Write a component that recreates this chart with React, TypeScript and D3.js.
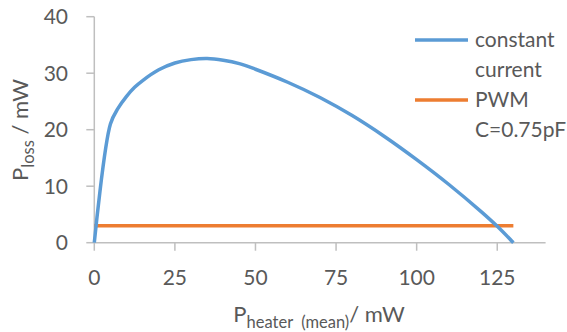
import React from "react";
import * as d3 from "d3";

const xTicks = [0, 25, 50, 75, 100, 125];
const yTicks = [0, 10, 20, 30, 40];
const ccX = [0, 5, 7.4, 10, 12.5, 15, 20, 25, 30, 35, 40, 45, 50, 60, 70, 80, 90, 100, 110, 120, 125, 130];
const ccY = [0, 21, 23.8, 25.9, 27.5, 28.7, 30.6, 31.8, 32.4, 32.6, 32.3, 31.7, 30.7, 28.4, 25.7, 22.5, 18.8, 14.7, 10.3, 5.5, 2.9, 0];
const pwmX = [0, 130];
const pwmY = [3, 3];
const seriesNames = [["constant", "current"], ["PWM", "C=0.75pF"]];
const colors = ["#5B9BD5", "#ED7D31"];

const W = 567, H = 332;
const FONT = "Lato, 'Open Sans', sans-serif";
const TXT = "#595959";

export default function App() {
  const x = d3.scaleLinear().domain([0, 140]).range([94.3, 545.6]);
  const y = d3.scaleLinear().domain([0, 40]).range([242.7, 16.7]);
  const line = d3.line<[number, number]>().x(d => x(d[0])).y(d => y(d[1])).curve(d3.curveCatmullRom.alpha(0.5));
  const cc = ccX.map((v, i) => [v, ccY[i]] as [number, number]);
  const pwm = pwmX.map((v, i) => [v, pwmY[i]] as [number, number]);
  const axisColor = "#BFBFBF";
  return (
    <svg width={W} height={H} style={{ position: "absolute", left: 0, top: 0, background: "#fff" }} fontFamily={FONT}>
      {/* axes */}
      <line x1={x(0)} x2={x(0)} y1={y(40)} y2={y(0)} stroke={axisColor} strokeWidth={1.5} />
      <line x1={x(0)} x2={x(140)} y1={y(0)} y2={y(0)} stroke={axisColor} strokeWidth={1.5} />
      {yTicks.map(t => (
        <g key={"y" + t}>
          <line x1={x(0) - 8} x2={x(0)} y1={y(t)} y2={y(t)} stroke={axisColor} strokeWidth={1.5} />
          <text x={68} y={y(t)} dy="0.36em" textAnchor="end" fontSize={21} fill={TXT}>{t}</text>
        </g>
      ))}
      {xTicks.map(t => (
        <g key={"x" + t}>
          <line x1={x(t)} x2={x(t)} y1={y(0)} y2={y(0) + 8} stroke={axisColor} strokeWidth={1.5} />
          <text x={x(t)} y={285} textAnchor="middle" fontSize={21} fill={TXT}>{t}</text>
        </g>
      ))}
      {/* series */}
      <path d={line(pwm) || ""} fill="none" stroke={colors[1]} strokeWidth={3.5} />
      <path d={line(cc) || ""} fill="none" stroke={colors[0]} strokeWidth={3.5} strokeLinejoin="round" />
      {/* axis titles */}
      <text transform={`translate(28,130) rotate(-90)`} textAnchor="middle" fontSize={22} fill={TXT}>
        P<tspan fontSize={16.5} dy={6}>loss</tspan><tspan dy={-6}> / mW</tspan>
      </text>
      <text x={319} y={322} textAnchor="middle" fontSize={22} fill={TXT}>
        P<tspan fontSize={16.5} dy={6}>heater</tspan><tspan fontSize={16.5} dx={8}>(mean)</tspan><tspan dy={-6}>/ mW</tspan>
      </text>
      {/* legend */}
      {seriesNames.map((names, i) => (
        <g key={"lg" + i}>
          <line x1={415} x2={468} y1={40 + i * 60} y2={40 + i * 60} stroke={colors[i]} strokeWidth={3.5} />
          {names.map((n, j) => (
            <text key={j} x={475} y={47 + i * 60 + j * 30} fontSize={21} fill={TXT}>{n}</text>
          ))}
        </g>
      ))}
    </svg>
  );
}
